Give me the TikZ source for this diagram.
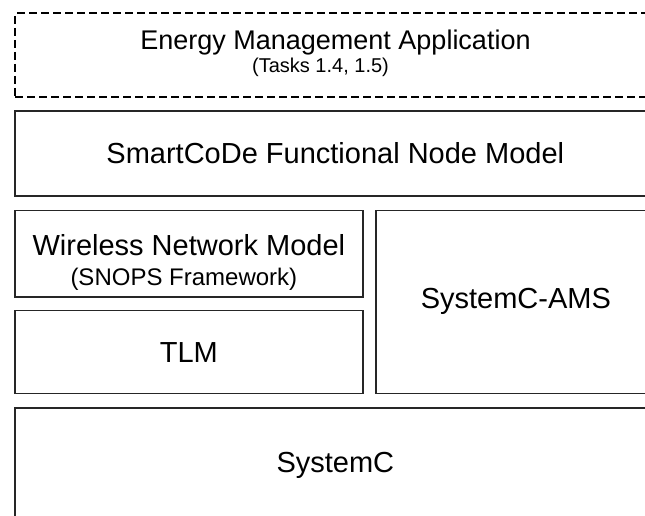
\documentclass[tikz,border=0pt]{standalone}
\usepackage{fontspec}
\setmainfont{Liberation Sans}
\usetikzlibrary{positioning}

\begin{document}
\begin{tikzpicture}[x=1pt,y=-1pt,line width=1.7pt,inner sep=0pt]
	\tikzstyle{layer}=[draw=black!85,rectangle,anchor=north west]
	\tikzstyle{planned}=[layer,draw=black,line width=2pt,dash pattern=on 8pt off 4pt]
	\tikzstyle{big}=[font=\fontsize{29}{34}\selectfont]
	\tikzstyle{small}=[font=\fontsize{24}{28}\selectfont]

	\useasboundingbox (0,0) rectangle (645,516);
	\clip (0,0) rectangle (645,516);

	% the layers, from the application down to the kernel
	\node[planned, minimum width=641pt, minimum height=83.5pt] (app)  at (14,12.5)  {};
	\node[layer,   minimum width=641pt, minimum height=84.5pt] (fnm)  at (14,110.5) {};
	\node[layer,   minimum width=348pt, minimum height=86.5pt] (wsn)  at (14,209.5) {};
	\node[layer,   minimum width=348pt, minimum height=83pt]   (tlm)  at (14,309.5) {};
	\node[layer,   minimum width=280pt, minimum height=183pt]  (ams)  at (375,209.5) {};
	\node[layer,   minimum width=641pt, minimum height=111pt]  (sysc) at (14,407)   {};

	% labels, placed by their baselines
	\node[font=\fontsize{27}{32}\selectfont] (appname) [below=37.5pt of app.north, anchor=base] {Energy Management Application};
	\node[font=\fontsize{20}{24}\selectfont] (apptask) [below=60.5pt of app.north, anchor=base, xshift=-15pt] {(Tasks 1.4, 1.5)};
	\node[big]   (fnmname)  [below=52.5pt of fnm.north, anchor=base]  {SmartCoDe Functional Node Model};
	\node[big]   (wsnname)  [below=45.5pt of wsn.north, anchor=base]  {Wireless Network Model};
	\node[small] (wsnframe) [below=75.5pt of wsn.north, anchor=base, xshift=-5pt]  {(SNOPS Framework)};
	\node[big]   (amsname)  [below=98.5pt of ams.north, anchor=base]  {SystemC-AMS};
	\node[big]   (tlmname)  [below=52.5pt of tlm.north, anchor=base]  {TLM};
	\node[big]   (syscname) [below=65pt of sysc.north, anchor=base]   {SystemC};
\end{tikzpicture}
\end{document}
